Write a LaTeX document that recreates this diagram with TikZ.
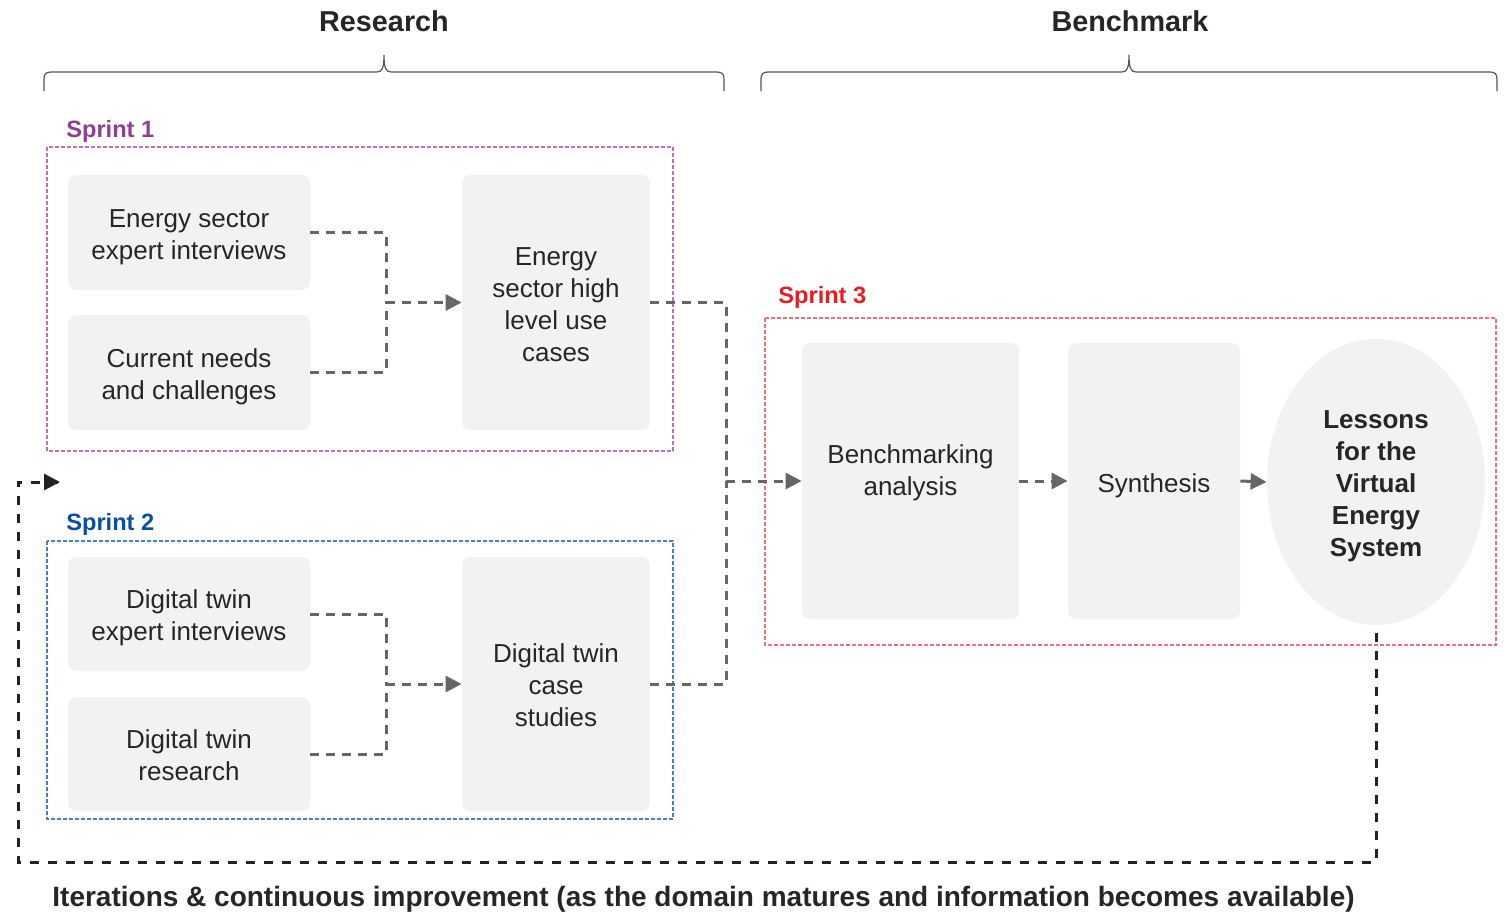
\documentclass[tikz,border=0pt]{standalone}
\usepackage{fontspec}
\setmainfont{Liberation Sans}
\usetikzlibrary{arrows.meta,shapes.geometric}

\definecolor{boxgray}{HTML}{F2F2F2}
\definecolor{txtdark}{HTML}{262626}
\definecolor{linegray}{HTML}{666666}
\definecolor{bracegray}{HTML}{555555}
\definecolor{loopdark}{HTML}{222222}
\definecolor{sprintA}{HTML}{8E3F91}
\definecolor{sprintAframe}{HTML}{B476B7}
\definecolor{sprintB}{HTML}{0B4EA2}
\definecolor{sprintBframe}{HTML}{4381C7}
\definecolor{sprintC}{HTML}{E31E24}
\definecolor{sprintCframe}{HTML}{EC6F79}

\tikzset{
  stepbox/.style={fill=boxgray, rounded corners=4pt, inner sep=0pt},
  steptext/.style={inner sep=0pt, align=center, text=txtdark,
    font=\fontsize{13}{16}\selectfont},
  lessons/.style={ellipse, fill=boxgray, inner sep=0pt},
  lessonstext/.style={steptext, font=\fontsize{13}{16}\selectfont\bfseries},
  phasetitle/.style={anchor=base, inner sep=0pt, text=txtdark,
    font=\fontsize{14.4}{17}\selectfont\bfseries},
  sprintlabel/.style={anchor=base west, inner sep=0pt,
    font=\fontsize{11.8}{14}\selectfont\bfseries},
  sprintframe/.style={line width=0.6pt, dash pattern=on 2pt off 1pt},
  brace/.style={draw=bracegray, line width=0.6pt},
  conn/.style={draw=linegray, line width=1.5pt, dash pattern=on 4.5pt off 3.5pt},
  connarrow/.style={conn, -{Triangle[length=8pt,width=8pt]}},
  loopline/.style={draw=loopdark, line width=1.5pt, dash pattern=on 4.5pt off 4.5pt},
}

\begin{document}
\begin{tikzpicture}[x=0.5pt, y=-0.5pt]
\useasboundingbox (0,0) rectangle (1504,911);

% phase titles and braces
\node[phasetitle] (research) at (384,31) {Research};
\node[phasetitle] (benchmark) at (1130,31) {Benchmark};
\draw[brace] (44,91) -- (44,79) .. controls (44,74) and (46,72) .. (51,72)
  -- (377,72) .. controls (382,72) and (384,68) .. (384,55)
  .. controls (384,68) and (386,72) .. (391,72)
  -- (717,72) .. controls (722,72) and (724,74) .. (724,79) -- (724,91);
\draw[brace] (761,91) -- (761,79) .. controls (761,74) and (763,72) .. (768,72)
  -- (1122,72) .. controls (1127,72) and (1129,68) .. (1129,55)
  .. controls (1129,68) and (1131,72) .. (1136,72)
  -- (1490,72) .. controls (1495,72) and (1497,74) .. (1497,79) -- (1497,91);

% sprint frames and labels
\draw[sprintframe, color=sprintAframe] (47,147) rectangle (673,451);
\node[sprintlabel, text=sprintA] (s1) at (66,137) {Sprint 1};
\draw[sprintframe, color=sprintBframe] (47,541) rectangle (673,819);
\node[sprintlabel, text=sprintB] (s2) at (66,530) {Sprint 2};
\draw[sprintframe, color=sprintCframe] (765,318) rectangle (1496,645);
\node[sprintlabel, text=sprintC] (s3) at (778,303) {Sprint 3};

% sprint 1
\node[stepbox, minimum width=121pt, minimum height=57.5pt] (esi) at (189,232.5) {};
\node[steptext] (esi-t) at ([yshift=-2.5pt]esi.center) {Energy sector\\expert interviews};
\node[stepbox, minimum width=121pt, minimum height=57.5pt] (cnc) at (189,372.5) {};
\node[steptext] (cnc-t) at ([yshift=-2pt]cnc.center) {Current needs\\and challenges};
\node[stepbox, minimum width=94pt, minimum height=127.5pt] (uc) at (556,302.5) {};
\node[steptext] (uc-t) at ([yshift=-1pt]uc.center) {Energy\\sector high\\level use\\cases};

% sprint 2
\node[stepbox, minimum width=121pt, minimum height=57pt] (dte) at (189,614) {};
\node[steptext] (dte-t) at ([yshift=-2pt]dte.center) {Digital twin\\expert interviews};
\node[stepbox, minimum width=121pt, minimum height=57pt] (dtr) at (189,754) {};
\node[steptext] (dtr-t) at ([yshift=-0.5pt]dtr.center) {Digital twin\\research};
\node[stepbox, minimum width=94pt, minimum height=127pt] (dtc) at (556,684) {};
\node[steptext] (dtc-t) at ([yshift=-0.5pt]dtc.center) {Digital twin\\case\\studies};

% sprint 3
\node[stepbox, minimum width=108.5pt, minimum height=138pt] (ba) at (910.5,481) {};
\node[steptext] (ba-t) at ([yshift=4pt]ba.center) {Benchmarking\\analysis};
\node[stepbox, minimum width=86pt, minimum height=138pt] (syn) at (1154,481) {};
\node[steptext] (syn-t) at ([yshift=-2.5pt]syn.center) {Synthesis};
\node[lessons, minimum width=109pt, minimum height=143pt] (les) at (1376,482) {};
\node[lessonstext] (les-t) at ([yshift=-2pt]les.center) {Lessons\\for the\\Virtual\\Energy\\System};

% connectors
\coordinate (j1) at (386,302.5);
\coordinate (j2) at (386,684);
\coordinate (j3) at (726,481);
\draw[conn] (esi.east) -| (j1);
\draw[conn] (cnc.east) -| (j1);
\draw[connarrow] (j1) -- (uc.west);
\draw[conn] (dte.east) -| (j2);
\draw[conn] (dtr.east) -| (j2);
\draw[connarrow] (j2) -- (dtc.west);
\draw[conn] (uc.east) -| (j3);
\draw[conn] (dtc.east) -| (j3);
\draw[connarrow] (j3) -- (ba.west);
\draw[connarrow] (ba.east) -- (syn.west);
\draw[draw=linegray, line width=1.5pt, -{Triangle[length=8pt,width=8pt]}] (syn.east) -- (les.west);

% iteration loop
\coordinate (lpA) at (1376,862);
\coordinate (lpB) at (18,862);
\coordinate (lpEnd) at (60,482);
\draw[loopline] ([yshift=-4pt]les.south) -- (lpA) -- (lpB) |- (lpEnd);
\draw[draw=loopdark, line width=1.5pt, -{Triangle[length=8pt,width=8pt]}] (48,482) -- (lpEnd);

\node[anchor=base west, inner sep=0pt, text=txtdark, font=\fontsize{14}{17}\selectfont\bfseries]
  (iter) at (52,906)
  {Iterations \& continuous improvement (as the domain matures and information becomes available)};
\end{tikzpicture}
\end{document}
